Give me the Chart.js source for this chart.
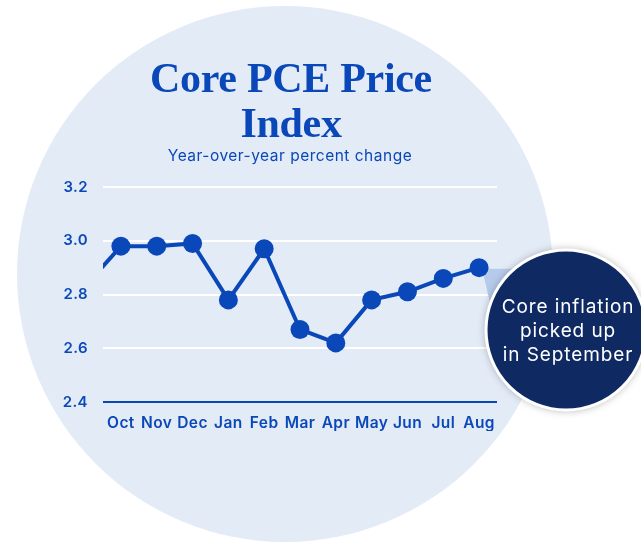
<!DOCTYPE html>
<html>
<head>
<meta charset="utf-8">
<script src="https://cdn.jsdelivr.net/npm/chart.js@4.4.1/dist/chart.umd.min.js"></script>
<style>
  html, body { margin: 0; padding: 0; background: #fff; }
  #wrap { width: 641px; height: 544px; }
</style>
</head>
<body>
<div id="wrap"><canvas id="pce"></canvas></div>
<script>
// Sep is off the left edge, only its line segment peeks in
const months = ['Sep', 'Oct', 'Nov', 'Dec', 'Jan', 'Feb', 'Mar', 'Apr', 'May', 'Jun', 'Jul', 'Aug'];
const coreYoY = [2.83, 2.98, 2.98, 2.99, 2.78, 2.97, 2.67, 2.62, 2.78, 2.81, 2.86, 2.90];
const yTicks = [2.4, 2.6, 2.8, 3.0, 3.2];
const titleLines = ['Core PCE Price', 'Index'];
const subtitleText = 'Year-over-year percent change';
const noteLines = ['Core inflation', 'picked up', 'in September'];

const blue = '#0a48b9';
const navy = '#0f2a63';
const pale = '#e3ebf7';

const decor = {
  id: 'decor',
  beforeDraw(chart) {
    const c = chart.ctx;
    c.save();
    c.fillStyle = '#fff';
    c.fillRect(0, 0, chart.width, chart.height);
    c.fillStyle = pale;
    c.beginPath();
    c.arc(285, 274, 268, 0, Math.PI * 2);
    c.fill();
    // title + subtitle, centred a bit left of the plot
    c.fillStyle = blue;
    c.textAlign = 'center';
    c.textBaseline = 'alphabetic';
    c.font = 'bold 42px "Liberation Serif"';
    c.letterSpacing = '-0.3px';
    titleLines.forEach((t, i) => c.fillText(t, 291, 92 + i * 45));
    c.font = '15.5px Inter';
    c.letterSpacing = '0.5px';
    c.fillText(subtitleText, 290, 161);
    c.restore();
    // wider tick lettering, closer to the original typeface
    c.letterSpacing = '0.4px';
  },
  beforeDatasetsDraw(chart) {
    // pointer wedge from the last point to the note bubble
    const c = chart.ctx;
    const pt = chart.getDatasetMeta(0).data[months.length - 1];
    c.save();
    c.fillStyle = '#b6caeb';
    c.beginPath();
    c.moveTo(pt.x + 3, pt.y + 1);
    c.lineTo(pt.x + 60, pt.y + 1);
    c.lineTo(pt.x + 12, pt.y + 40);
    c.closePath();
    c.fill();
    c.restore();
  },
  afterDraw(chart) {
    const c = chart.ctx;
    c.save();
    c.shadowColor = 'rgba(0,0,0,0.35)';
    c.shadowBlur = 8;
    c.fillStyle = navy;
    c.beginPath();
    c.arc(566, 330, 80, 0, Math.PI * 2);
    c.fill();
    c.shadowColor = 'transparent';
    c.lineWidth = 3;
    c.strokeStyle = '#fff';
    c.stroke();
    c.fillStyle = '#fff';
    c.font = '19px Inter';
    c.letterSpacing = '0.9px';
    c.textAlign = 'center';
    c.textBaseline = 'middle';
    noteLines.forEach((t, i) => c.fillText(t, 568, 307 + i * 24));
    c.restore();
  }
};

new Chart(document.getElementById('pce'), {
  type: 'line',
  data: {
    labels: months,
    datasets: [{
      data: coreYoY,
      borderColor: blue,
      backgroundColor: blue,
      borderWidth: 4,
      pointRadius: 9.5,
      pointHoverRadius: 9.5,
      pointBorderWidth: 0,
      pointBackgroundColor: blue,
      tension: 0,
      clip: 0
    }]
  },
  options: {
    responsive: true,
    maintainAspectRatio: false,
    animation: false,
    events: [],
    layout: { padding: { left: 60, right: 144, top: 187, bottom: 113 } },
    plugins: {
      legend: { display: false },
      tooltip: { enabled: false }
    },
    scales: {
      x: {
        min: 'Oct',
        max: 'Aug',
        offset: true,
        grid: { display: false, drawTicks: false },
        border: { display: false },
        ticks: {
          color: blue,
          padding: 12,
          autoSkip: false,
          maxRotation: 0,
          minRotation: 0,
          font: { family: 'Inter', weight: '600', size: 15.5 }
        },
        afterFit(s) { s.height = 29; }
      },
      y: {
        min: 2.4,
        max: 3.2,
        afterBuildTicks(s) { s.ticks = yTicks.map(v => ({ value: v })); },
        afterFit(s) { s.width = 43; },
        grid: {
          drawTicks: false,
          lineWidth: 2,
          color: ctx => (ctx.tick && ctx.tick.value === 2.4 ? blue : '#ffffff')
        },
        border: { display: false },
        ticks: {
          color: blue,
          padding: 15,
          font: { family: 'Inter', weight: '600', size: 15 },
          callback: v => Number(v).toFixed(1)
        }
      }
    }
  },
  plugins: [decor]
});
</script>
</body>
</html>
